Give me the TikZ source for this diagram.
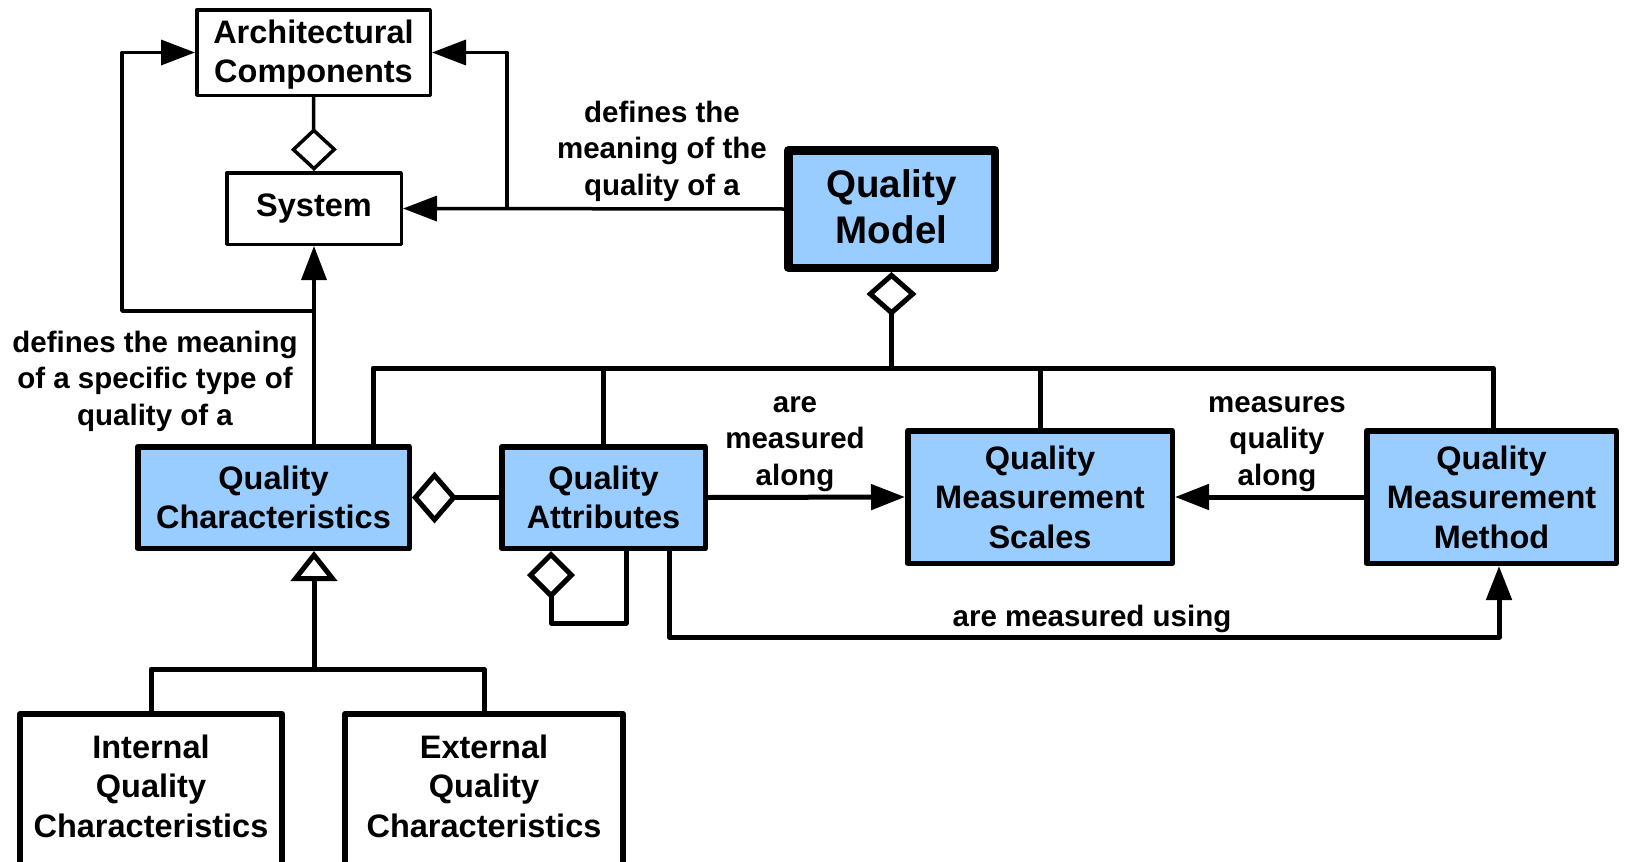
\documentclass[tikz,border=0pt]{standalone}
\usepackage{fontspec}
\setmainfont{Liberation Sans}
\usetikzlibrary{arrows.meta,calc}
\definecolor{qblue}{HTML}{99CCFF}
\begin{document}
\begin{tikzpicture}[x=1pt,y=-1pt,line join=round,
  boxtxt/.style={align=center,font=\fontsize{32.5}{39.5}\selectfont\bfseries,inner sep=0pt},
  plainbox/.style={boxtxt,draw,line width=3.5pt,fill=white},
  bluebox/.style={boxtxt,draw,line width=5.5pt,fill=qblue},
  modelbox/.style={align=center,font=\fontsize{38.5}{46}\selectfont\bfseries,draw,line width=8.5pt,fill=qblue,inner sep=0pt},
  lowbox/.style={boxtxt,draw,line width=6pt,fill=white},
  lbl/.style={align=center,font=\fontsize{29.5}{36.5}\selectfont\bfseries,inner sep=0pt},
  thinline/.style={line width=3.5pt},
  thickline/.style={line width=5pt},
  tri/.style={-{Triangle[length=34pt,width=25pt]}}
]
\useasboundingbox (0,0) rectangle (1626,862);

% boxes
\node[plainbox,minimum width=233.5pt,minimum height=85.5pt] (ac) at (313.5,52.5) {\rule{0pt}{28pt}Architectural\\Components};
\node[plainbox,minimum width=174.5pt,minimum height=71.5pt] (sys) at (314,208.5) {System};
\node[modelbox,minimum width=206.5pt,minimum height=117.5pt] (qm) at (891.5,209) {Quality\\Model\rule[-5pt]{0pt}{5pt}};
\node[bluebox,minimum width=271.5pt,minimum height=101.5pt] (qc) at (273.5,497.5) {Quality\\Characteristics};
\node[bluebox,minimum width=203.5pt,minimum height=101.5pt] (qa) at (603.5,497.5) {Quality\\Attributes};
\node[bluebox,minimum width=264.5pt,minimum height=132.5pt] (qms) at (1040,497) {Quality\\Measurement\\Scales};
\node[bluebox,minimum width=249.5pt,minimum height=132.5pt] (qmm) at (1491.5,497) {Quality\\Measurement\\Method};
\node[lowbox,minimum width=262pt,minimum height=184pt] (int) at (151,806) {Internal\\Quality\\Characteristics\rule[-40pt]{0pt}{40pt}};
\node[lowbox,minimum width=278pt,minimum height=184pt] (ext) at (484,806) {External\\Quality\\Characteristics\rule[-40pt]{0pt}{40pt}};

% helper coordinates
\coordinate (rj) at (507,208);
\coordinate (lj) at (314,311);
\coordinate (lx) at (122,311);
\coordinate (bL) at (373,368);
\coordinate (bR) at (1493,368);
\coordinate (s1) at (551,623);
\coordinate (s2) at (626,623);
\coordinate (u1) at (669,637);
\coordinate (u2) at (1499,637);
\coordinate (i1) at (314,669);

% upper (thin) connectors
\draw[thinline,{Diamond[open,length=43pt,width=46pt]}-] (sys.north) -- (ac.south);
\draw[thinline,tri] (qm.west) -- (sys.east);
\draw[thinline,tri] (qm.west -| rj) |- (ac.east);
\draw[thinline,tri] (qc.north -| sys.south) -- (sys.south);
\draw[thinline,tri] (lj) -- (lx) |- (ac.west);

% bus from quality model
\draw[thickline,{Diamond[open,length=44pt,width=50pt]}-] (qm.south) -- (qm.south |- bL);
\draw[thickline] (qc.north -| bL) -- (bL) -- (bR) -- (qmm.north -| bR);
\draw[thickline] (qa.north) -- (qa.north |- bL);
\draw[thickline] (qms.north) -- (qms.north |- bL);

% middle row
\draw[thickline,{Diamond[open,length=45pt,width=52pt]}-] (qc.east) -- (qa.west);
\draw[thickline,tri] (qa.east) -- (qms.west);
\draw[thickline,tri] (qmm.west) -- (qms.east);
\draw[thickline,{Diamond[open,length=48pt,width=48pt]}-] (qa.south -| s1) -- (s1) -- (s2) -- (qa.south -| s2);
\draw[thickline,tri] (qa.south -| u1) |- (u2) -- (qmm.south -| u2);

% generalisation
\draw[thickline,{Triangle[open,length=30pt,width=46pt]}-] (qc.south -| i1) -- (i1);
\draw[thickline] (int.north) |- (i1) -| (ext.north);

% labels
\node[lbl] (l1) at (662,151) {defines the\\meaning of the\\quality of a};
\node[lbl] (l2) at (155,381) {defines the meaning\\of a specific type of\\quality of a};
\node[lbl] (l3) at (795,444) {are\\measured\\along};
\node[lbl] (l4) at (1277,444) {measures\\quality\\along};
\node[lbl] (l5) at (1092,619) {are measured using};
\end{tikzpicture}
\end{document}
